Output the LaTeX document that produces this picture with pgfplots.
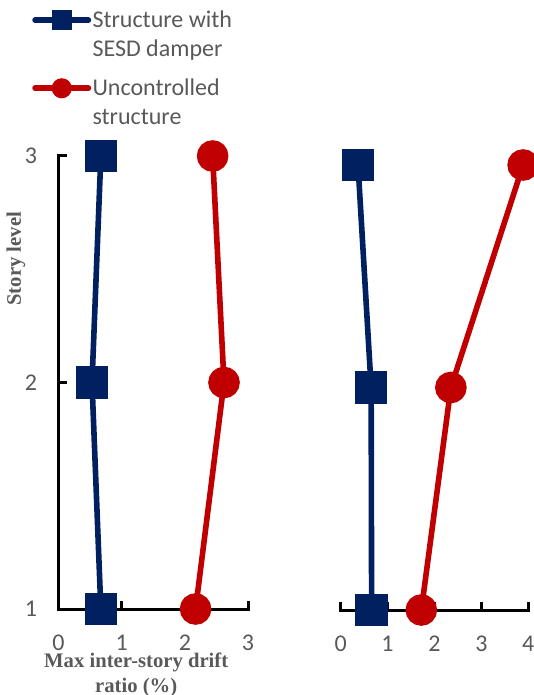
\documentclass[border=0pt]{standalone}
\usepackage{fontspec}
\setmainfont{Carlito}
\newfontfamily\timesfont{Liberation Serif}
\usepackage{pgfplots}
\pgfplotsset{compat=1.18}
\definecolor{navy}{HTML}{002060}
\definecolor{dred}{HTML}{C00000}
\definecolor{tgray}{HTML}{595959}

\begin{document}
\begin{tikzpicture}
\pgfplotsset{
 base/.style={
  scale only axis, clip=false, set layers,
  /pgf/number format/assume math mode=true,
  axis line style={line width=2.25pt, black, line cap=rect},
  tick style={line width=2.25pt, black},
  tick align=inside, major tick length=6pt,
  tick label style={font=\fontsize{18pt}{21pt}\selectfont, text=tgray, inner sep=0pt},
  xticklabel style={anchor=center, yshift=-25.5pt},
  yticklabel style={anchor=center, xshift=-20.7pt},
  ymin=1, ymax=3,
 },
 blueline/.style={navy, line width=4.2pt, mark=square*, mark size=10pt, mark options={draw=none, fill=navy}},
 redline/.style={dred, line width=4.2pt, mark=*, mark size=9.75pt, mark options={draw=none, fill=dred}},
}
\begin{axis}[base,
  at={(43.9pt,-456.75pt)}, anchor=south west,
  width=142.1pt, height=339.75pt,
  xmin=0, xmax=3, xtick={0,1,2,3}, ytick={1,2,3},
  axis x line*=bottom, axis y line*=left,
  xlabel={Max inter-story drift\\ratio (\%)},
  xlabel style={font=\timesfont\bfseries\fontsize{15.5pt}{18.75pt}\selectfont, text=tgray, align=center, inner sep=0pt, at={(axis description cs:0.410,-0.1460)}, anchor=center},
  ylabel={Story level},
  ylabel style={font=\timesfont\bfseries\fontsize{15.5pt}{18.75pt}\selectfont, text=tgray, at={(axis description cs:-0.225,0.773)}, anchor=center},
  legend cell align=left,
  legend style={draw=none, fill=none, at={(axis description cs:-0.14,1.3267)}, anchor=north west,
    font=\fontsize{18pt}{21.4pt}\selectfont, text=tgray, cells={align=left}, nodes={inner xsep=1pt}, inner sep=0pt, row sep=11.6pt},
  legend image code/.code={\draw[#1, mark size=5.4pt, line cap=round, mark indices={2}] plot coordinates {(0pt,10.7pt) (20pt,10.7pt) (40pt,10.7pt)};},
]
\addplot[blueline] coordinates {(0.67,1) (0.53,2) (0.67,3)};
\addlegendentry{Structure with\\SESD damper}
\addplot[redline] coordinates {(2.17,1) (2.62,2) (2.44,3)};
\addlegendentry{Uncontrolled\\structure}
\end{axis}
\begin{axis}[base,
  at={(255.5pt,-457.5pt)}, anchor=south west,
  width=140.7pt, height=333.75pt,
  xmin=0, xmax=4, xtick={0,1,2,3,4}, ytick=\empty,
  axis x line*=bottom, axis y line*=left,
  y axis line style={draw=none},
]
\addplot[blueline] coordinates {(0.66,1) (0.65,2) (0.37,3)};
\addplot[redline] coordinates {(1.72,1) (2.35,2) (3.89,3)};
\end{axis}
\pgfresetboundingbox
\path[use as bounding box] (0,0) rectangle (400.5pt,-521.25pt);
\end{tikzpicture}
\end{document}
